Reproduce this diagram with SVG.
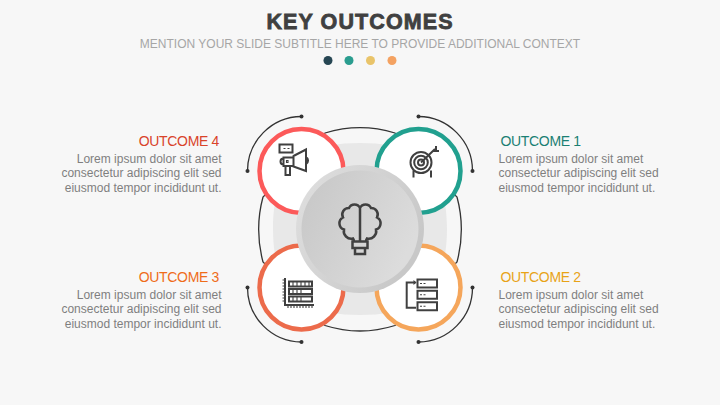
<svg xmlns="http://www.w3.org/2000/svg" width="720" height="405" viewBox="0 0 720 405">
<style>
text{font-family:"Liberation Sans",Arial,sans-serif}
.title{font-size:21.5px;font-weight:bold;fill:#404040;stroke:#404040;stroke-width:.8px;text-anchor:middle;letter-spacing:1.1px}
.sub{font-size:12px;fill:#a6a6a6;text-anchor:middle}
.h{font-size:14px;letter-spacing:-.33px}
.b{font-size:12px;fill:#7f7f7f}
.r{text-anchor:end}
.arc{fill:none;stroke:#333;stroke-width:1.3}
.ring{fill:#fff;stroke-width:4.500}
.ic{fill:none;stroke:#404040;stroke-width:2;stroke-linejoin:miter}
.ict{fill:none;stroke:#404040;stroke-width:1.100}
.dot{fill:#333}
</style>
<defs>
<linearGradient id="gOuter" x1="0" x2="1" y1="0" y2=".5"><stop offset="0" stop-color="#e0e0e0"/><stop offset="1" stop-color="#c8c8c8"/></linearGradient>
<linearGradient id="gInner" x1="0" x2="1" y1="0" y2=".5"><stop offset="0" stop-color="#c6c6c6"/><stop offset="1" stop-color="#dcdcdc"/></linearGradient>
</defs>
<rect width="720" height="405" fill="#f7f7f7"/>
<text class="title" x="360" y="29">KEY OUTCOMES</text>
<text class="sub" x="360" y="47.500">MENTION YOUR SLIDE SUBTITLE HERE TO PROVIDE ADDITIONAL CONTEXT</text>
<g id="dots">
<circle cx="328" cy="60.500" r="4.500" fill="#264653"/>
<circle cx="349" cy="60.500" r="4.500" fill="#2a9d8f"/>
<circle cx="370.500" cy="60.500" r="4.500" fill="#e9c46a"/>
<circle cx="392" cy="60.500" r="4.500" fill="#f4a261"/>
</g>
<g id="backdrop">
<path fill="#e8e8e8" d="M360 143C382 143 400 146 415 155C435 165 447 190 447 229C447 268 435 293 415 303C400 312 382 315 360 315C338 315 320 312 305 303C285 293 273 268 273 229C273 190 285 165 305 155C320 146 338 143 360 143Z"/>
</g>
<g id="connectors">
<path class="arc" d="M325 133Q360 122.400 395 133L457 197Q465.700 229 457 262L395 325.500Q360 336.500 325 325.500L263 262Q254.300 229 263 197Z"/>
<path class="arc" d="M301.500 116.500A54.500 54.500 0 0 0 247.500 171"/>
<circle class="dot" cx="301.500" cy="116.500" r="2"/><circle class="dot" cx="247.500" cy="171" r="2"/>
<path class="arc" d="M418.500 116.500A54.500 54.500 0 0 1 472.500 171"/>
<circle class="dot" cx="418.500" cy="116.500" r="2"/><circle class="dot" cx="472.500" cy="171" r="2"/>
<path class="arc" d="M247.500 287.500A54.500 54.500 0 0 0 301.500 342"/>
<circle class="dot" cx="247.500" cy="287.500" r="2"/><circle class="dot" cx="301.500" cy="342" r="2"/>
<path class="arc" d="M472.500 287.500A54.500 54.500 0 0 1 418.500 342"/>
<circle class="dot" cx="472.500" cy="287.500" r="2"/><circle class="dot" cx="418.500" cy="342" r="2"/>
</g>
<g id="outcome4">
<circle class="ring" cx="301.500" cy="171" r="42" stroke="#fc5a5a"/>
<path class="ic" d="M279.500 144.500H292.500V152.500H279.500ZM293.500 156L306 149.500V171L293.500 166.500ZM283.500 157.500H293.500V166H283.500ZM283.500 158.500A3 3 0 0 0 283.500 164.500M285.500 166H290V175H285.500ZM306 157A4 4 0 0 1 306 164"/>
<path class="ict" d="M283.500 148.500h2M287.500 148.500h2M286.500 160.500h1.500v2h-1.500z"/>
<text class="h r" x="219" y="146" fill="#d9432a">OUTCOME 4</text>
<text class="b r" x="221.500" y="162.500">Lorem ipsum dolor sit amet</text>
<text class="b r" x="221.500" y="177">consectetur adipiscing elit sed</text>
<text class="b r" x="221.500" y="191.500">eiusmod tempor incididunt ut.</text>
</g>
<g id="outcome1">
<circle class="ring" cx="418.500" cy="171" r="42" stroke="#21a08f"/>
<circle class="ic" cx="421" cy="162.500" r="10.500"/><circle class="ic" cx="421" cy="162.500" r="6.800"/><circle class="ic" cx="421" cy="162.500" r="3"/>
<path class="ic" d="M413.500 170.500V177.500M431 170.500V177.500M421 162.500L435 149M436 146V151M433 151H439"/>
<text class="h" x="500.500" y="146" fill="#1a7f73">OUTCOME 1</text>
<text class="b" x="498.500" y="162.500">Lorem ipsum dolor sit amet</text>
<text class="b" x="498.500" y="177">consectetur adipiscing elit sed</text>
<text class="b" x="498.500" y="191.500">eiusmod tempor incididunt ut.</text>
</g>
<g id="outcome3">
<circle class="ring" cx="301.500" cy="287.500" r="42" stroke="#ec6b4b"/>
<path class="ic" d="M289 281.500H312V286.500H289ZM289 289H312V294H289ZM289 296.500H312V301.500H289ZM285 278V305H314"/>
<path class="ict" d="M282.500 280h2.500M282.500 283h2.500M282.500 286h2.500M282.500 289h2.500M282.500 292h2.500M282.500 295h2.500M282.500 298h2.500M282.500 301h2.500M288 305v3M291 305v3M294 305v3M297 305v3M300 305v3M303 305v3M306 305v3M309 305v3M312 305v3"/>
<path class="ict" d="M293 281.500v5M297 281.500v5M301 281.500v5M305 281.500v5M309 281.500v5M293 289v5M297 289v5M301 289v5M293 296.500v5M297 296.500v5M301 296.500v5"/>
<text class="h r" x="219" y="282" fill="#ef6c1a">OUTCOME 3</text>
<text class="b r" x="221.500" y="298.500">Lorem ipsum dolor sit amet</text>
<text class="b r" x="221.500" y="313">consectetur adipiscing elit sed</text>
<text class="b r" x="221.500" y="327.500">eiusmod tempor incididunt ut.</text>
</g>
<g id="outcome2">
<circle class="ring" cx="418.500" cy="287.500" r="42" stroke="#f5a65b"/>
<path class="ic" d="M417.500 279.500H437V287.500H417.500ZM417.500 290.700H437V298.700H417.500ZM417.500 302.300H437V310.300H417.500ZM415.500 282.500H406.700V307.700H416"/>
<path fill="#404040" d="M416.500 282.500L413.500 280V285Z"/>
<path class="ict" d="M420 283.500h2M423.500 283.500h2M420 294.700h2M423.500 294.700h2M420 306.300h2M423.500 306.300h2"/>
<text class="h" x="500.500" y="282" fill="#e8a317">OUTCOME 2</text>
<text class="b" x="498.500" y="298.500">Lorem ipsum dolor sit amet</text>
<text class="b" x="498.500" y="313">consectetur adipiscing elit sed</text>
<text class="b" x="498.500" y="327.500">eiusmod tempor incididunt ut.</text>
</g>
<g id="center">
<circle cx="360" cy="229" r="64" fill="url(#gOuter)"/>
<circle cx="360" cy="229" r="58.500" fill="url(#gInner)"/>
<path class="ic" style="stroke-width:2.500" d="M360 241.500V208A6 6 0 0 0 349 208A6.500 6.500 0 0 0 343 217.500A6.500 6.500 0 0 0 344 229.500A7.500 7.500 0 0 0 353 238.500Q355 241.500 352.500 241.500H367.500Q365 241.500 367 238.500A7.500 7.500 0 0 0 376 229.500A6.500 6.500 0 0 0 377 217.500A6.500 6.500 0 0 0 371 208A6 6 0 0 0 360 208M352.500 241.500H367.500V248H352.500ZM355 248H365V254H355Z"/>
</g>
</svg>
